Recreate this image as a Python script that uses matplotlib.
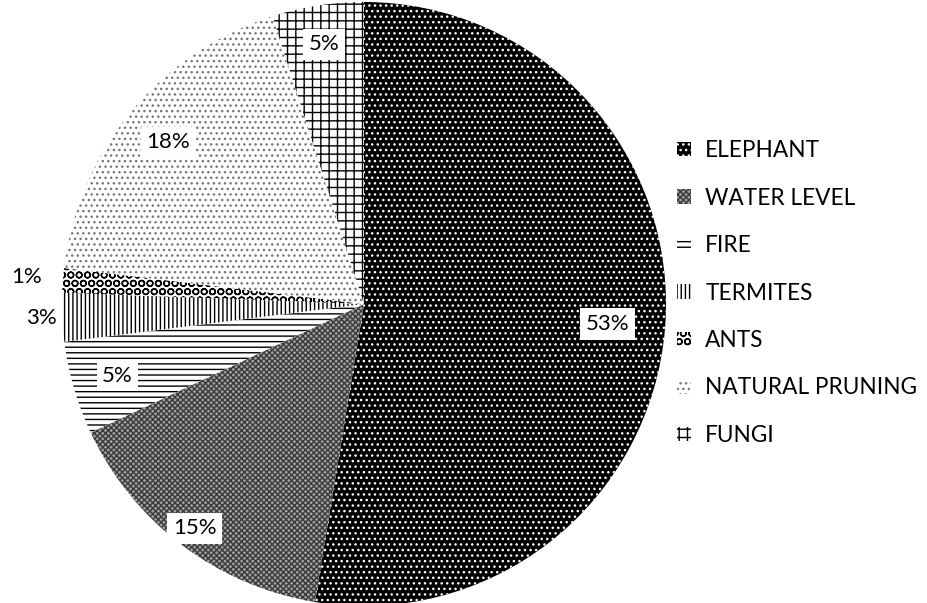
import numpy as np
import matplotlib.pyplot as plt

plt.rcParams['font.family'] = ['Lato', 'DejaVu Sans']
plt.rcParams['hatch.linewidth'] = 1.0

categories = ['ELEPHANT', 'WATER LEVEL', 'FIRE', 'TERMITES', 'ANTS', 'NATURAL PRUNING', 'FUNGI']
values = [52.6, 15.4, 5.0, 2.6, 1.3, 18.2, 4.9]

# fill / hatch colour / hatch pattern for each slice
faces = ['black', '#a0a0a0', 'white', 'white', 'white', 'white', 'white']
hatchcols = ['white', '#3a3a3a', 'black', 'black', 'black', '#777777', 'black']
hatches = ['...', 'xxxxxx', '---', '||||', 'OO', '...', '++']
label_r = [0.81, 0.93, 0.85, 1.07, 1.12, 0.84, 0.87]

fig = plt.figure(figsize=(9.27, 6.03), dpi=100)
ax = fig.add_axes([62/927, -3/603, 604/927, 604/603])

wedges, _ = ax.pie(values, startangle=90, counterclock=False, radius=1,
                   wedgeprops=dict(linewidth=0))
for w, fc, hc, h in zip(wedges, faces, hatchcols, hatches):
    w.set_facecolor(fc)
    w.set_edgecolor(hc)
    w.set_hatch(h)
    w.set_linewidth(0)

for w, v, r in zip(wedges, values, label_r):
    ang = np.deg2rad((w.theta1 + w.theta2) / 2)
    x, y = r * np.cos(ang), r * np.sin(ang)
    bbox = dict(facecolor='white', edgecolor='none', pad=4)
    if r > 1:
        bbox = None
    ax.text(x, y, '%d%%' % round(v), ha='center', va='center', fontsize=16,
            bbox=bbox)

ax.set_xlim(-1, 1)
ax.set_ylim(-1, 1)
ax.set_aspect('equal')
ax.axis('off')

fig.legend(wedges, categories, loc='center left', bbox_to_anchor=(677/927, 1 - 293/603),
           frameon=False, fontsize=16.3, handlelength=0.6, handleheight=0.6,
           handletextpad=0.65, labelspacing=1.17, borderpad=0, borderaxespad=0)

fig.savefig('out.png', dpi=100)
